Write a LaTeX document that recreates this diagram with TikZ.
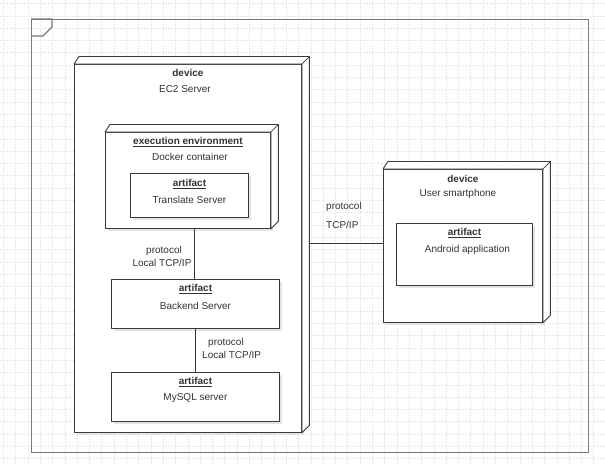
\documentclass[tikz,border=0pt]{standalone}
\usepackage{fontspec}
\setmainfont{Liberation Sans}
\usetikzlibrary{calc,shadows}
\definecolor{linec}{HTML}{3A3A3A}
\definecolor{framec}{HTML}{7A7A7A}
\definecolor{gridc}{HTML}{E8E8E8}
\definecolor{txtc}{HTML}{333333}
\tikzset{
  box/.style={draw=linec, line width=0.85pt, fill=white, inner sep=0pt, anchor=north west,
    drop shadow={shadow xshift=2.5pt, shadow yshift=-2.5pt, fill=gray!20, opacity=1}},
  side/.style={draw=linec, line width=0.85pt, fill=white, line join=round},
  conn/.style={draw=linec, line width=0.85pt},
  txt/.style={font=\fontsize{10}{12}\selectfont, text=txtc, inner sep=0pt},
  ttl/.style={font=\fontsize{10}{12}\selectfont\bfseries, text=txtc, inner sep=0pt},
  gridln/.style={draw=gridc, line width=0.6pt, dash pattern=on 2pt off 1pt},
}
\newcommand\boxthreed[1]{%
  \filldraw[side] (#1.north west) -- ++(5,-7.5) -- ($(#1.north east)+(7.5,-7.5)$)
     -- ($(#1.south east)+(7.5,-7.5)$) -- (#1.south east) -- (#1.north east) -- cycle;
  \draw[side] (#1.north east) -- ++(7.5,-7.5);
}
\begin{document}
\begin{tikzpicture}[x=1pt,y=-1pt]
\useasboundingbox (0,0) rectangle (605,466);
\fill[white] (0,0) rectangle (605,466);
% grid
\foreach \i in {0,...,49} { \draw[gridln] ({3.3+12.3*\i},0) -- ({3.3+12.3*\i},466); }
\foreach \i in {0,...,37} { \draw[gridln] (0,{3.5+12.3*\i}) -- (605,{3.5+12.3*\i}); }
% outer frame
\node[draw=framec, line width=1.4pt, inner sep=0pt, minimum width=557pt, minimum height=433pt, anchor=north west] (frame) at (31,19) {};
\draw[draw=framec, line width=1.2pt, line join=round] (frame.north west) -- ++(21,0) -- ++(0,8) -- ++(-9,9) -- ++(-12,0);
% EC2 device
\node[box, minimum width=227pt, minimum height=368pt] (ec2) at (74,64) {};
\boxthreed{ec2}
\node[ttl] (ec2t) at ($(ec2.north)+(0,9)$) {device};
\node[txt] (ec2n) at ($(ec2.north)+(-3,25)$) {EC2 Server};
% execution environment
\node[box, minimum width=165pt, minimum height=96pt] (exec) at (105,132) {};
\boxthreed{exec}
\node[ttl] (exect) at ($(exec.north)+(0,10)$) {\underline{execution environment}};
\node[txt] (execn) at ($(exec.north)+(2,25)$) {Docker container};
% translate server
\node[box, minimum width=118pt, minimum height=44pt] (trans) at (130,173) {};
\node[ttl] (transt) at ($(trans.north)+(0,11)$) {\underline{artifact}};
\node[txt] (transn) at ($(trans.north)+(0,27)$) {Translate Server};
% backend server
\node[box, minimum width=168pt, minimum height=49pt] (backend) at (111,279) {};
\node[ttl] (backt) at ($(backend.north)+(0,10)$) {\underline{artifact}};
\node[txt] (backn) at ($(backend.north)+(0,27)$) {Backend Server};
% mysql
\node[box, minimum width=168pt, minimum height=49pt] (mysql) at (111,372) {};
\node[ttl] (myt) at ($(mysql.north)+(0,10)$) {\underline{artifact}};
\node[txt] (myn) at ($(mysql.north)+(0,26)$) {MySQL server};
% phone
\node[box, minimum width=159pt, minimum height=153pt] (phone) at (383,169) {};
\boxthreed{phone}
\node[ttl] (phonet) at ($(phone.north)+(0,10)$) {device};
\node[txt] (phonen) at ($(phone.north)+(-5,25)$) {User smartphone};
% android
\node[box, minimum width=136pt, minimum height=62pt] (android) at (396,223) {};
\node[ttl] (andt) at ($(android.north)+(0,10)$) {\underline{artifact}};
\node[txt] (andn) at ($(android.north)+(3,27)$) {Android application};
% connectors
\draw[conn] (backend.north -| 194,0) -- (194,228 |- exec.south);
\draw[conn] (backend.south) -- (mysql.north);
\draw[conn] ($(ec2.east |- 0,243)+(7.5,0)$) -- (phone.west |- 0,243);
% connector labels
\node[txt] (p1) at (164,251) {protocol};
\node[txt] (l1) at (162,263) {Local TCP/IP};
\node[txt, anchor=west] (p2) at (208,343) {protocol};
\node[txt, anchor=west] (l2) at (202,355) {Local TCP/IP};
\node[txt, anchor=west] (p3) at (326,207) {protocol};
\node[txt, anchor=west] (l3) at (326,225) {TCP/IP};
\end{tikzpicture}
\end{document}
